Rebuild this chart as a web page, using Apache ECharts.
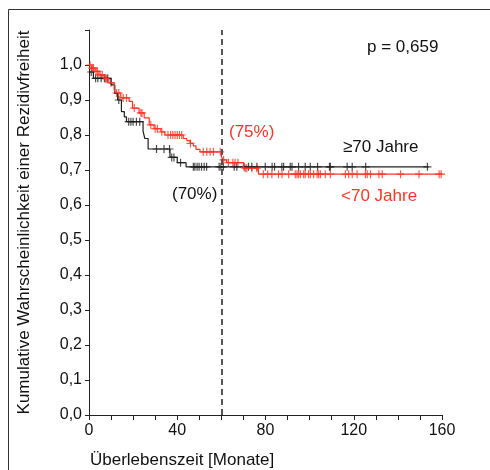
<!DOCTYPE html>
<html>
<head>
<meta charset="utf-8">
<script src="https://cdn.jsdelivr.net/npm/echarts@6/dist/echarts.min.js"></script>
<style>
  html, body { margin: 0; padding: 0; background: #fff; }
  #chart { width: 490px; height: 470px; }
</style>
</head>
<body>
<div id="chart"></div>
<script>
// Kaplan-Meier steps [Monate, Wahrscheinlichkeit] - value after each event
var olderSteps = [
  [0, 0.980], [2, 0.962], [10, 0.943], [11.7, 0.919], [13, 0.900], [14.7, 0.867],
  [16, 0.852], [17, 0.838], [24.5, 0.811], [25.3, 0.790], [26.8, 0.760],
  [36.7, 0.736], [40, 0.721], [44, 0.709], [154, 0.709]
];
var youngerSteps = [
  [0, 1.000], [1.2, 0.991], [2.7, 0.982], [4.5, 0.972], [6.8, 0.961], [9, 0.949],
  [11.4, 0.929], [12.1, 0.920], [14.4, 0.906], [18.2, 0.896], [19.7, 0.877],
  [22.7, 0.863], [25, 0.849], [27.3, 0.829], [29.5, 0.818], [32.6, 0.809],
  [34.4, 0.800], [42.7, 0.790], [44.3, 0.784], [45.8, 0.776], [47.3, 0.769],
  [48.5, 0.759], [50.3, 0.752], [60, 0.738], [60.8, 0.729], [62.4, 0.721],
  [70, 0.705], [76.8, 0.688], [160, 0.688]
];
// censored observations (Monate)
var olderCensored = [
  1, 3, 4, 5.5, 7, 8.5, 13.5, 18, 19, 20, 21.5, 23, 30.6, 34, 36.5, 37.5, 38.5,
  41.5, 47.3, 48, 49, 49.9, 51, 52.2, 53.3, 59, 59.8, 60.9, 65.8, 67, 70.3, 72.3,
  73.8, 76.1, 79.9, 83, 84.1, 87.4, 88.2, 91.2, 92, 95, 98, 100.3, 103.6, 109,
  109.4, 117, 119.3, 125.4, 153.4
];
var youngerCensored = [
  0.5, 1.5, 2, 3.2, 3.8, 5, 6, 7.5, 8, 10, 12.5, 13.5, 15.5, 17, 20.5, 23.5, 24,
  28, 30, 31, 33, 35.8, 37, 38, 39, 40, 41, 42, 46, 51.8, 53.4, 54.9, 56.4, 59.5,
  61, 63.2, 65.2, 66.2, 67.5, 70.8, 71.5, 73.8, 76.1, 79, 81, 82.9, 85.9, 87.5,
  90.5, 93.5, 94.3, 95, 95.8, 97.3, 98, 99.5, 100.3, 101.8, 103.4, 104.1, 104.9,
  107.1, 109.4, 116.2, 117.7, 119.3, 121.5, 125.3, 126.1, 127.6, 131.4, 132.9,
  141.2, 149.6, 158.7, 159.6
];
var cutoffMonth = 60;
var xTicks = [0, 40, 80, 120, 160];

var RED = '#ff3322';
var BLACK = '#1e1e1e';
var FONT = 'Liberation Sans';
var plus = 'path://M8.5,0H11.5V8.5H20V11.5H11.5V20H8.5V11.5H0V8.5H8.5Z';

function survivalAt(steps, t) {
  var s = steps[0][1];
  for (var i = 0; i < steps.length; i++) {
    if (steps[i][0] <= t) s = steps[i][1];
  }
  return s;
}
function marks(steps, times) {
  return times.map(function (t) { return [t, survivalAt(steps, t)]; });
}

var chart = echarts.init(document.getElementById('chart'));
chart.setOption({
  animation: false,
  backgroundColor: '#fff',
  grid: { left: 89, right: 48, top: 30, bottom: 55 },
  xAxis: {
    type: 'value', min: 0, max: 160, interval: 10,
    axisLine: { lineStyle: { color: '#222', width: 1 } },
    axisTick: { length: 5, lineStyle: { color: '#222' } },
    splitLine: { show: false },
    axisLabel: {
      color: '#111', fontFamily: FONT, fontSize: 16, margin: 8,
      formatter: function (v) { return xTicks.indexOf(v) >= 0 ? String(v) : ''; }
    }
  },
  yAxis: {
    type: 'value', min: 0, max: 1.1, interval: 0.1,
    name: 'Kumulative Wahrscheinlichkeit einer Rezidivfreiheit',
    nameLocation: 'middle', nameGap: 56, nameRotate: 90,
    nameTextStyle: { color: '#111', fontFamily: FONT, fontSize: 17 },
    axisLine: { show: true, lineStyle: { color: '#222', width: 1 } },
    axisTick: { show: true, length: 4, lineStyle: { color: '#222' } },
    splitLine: { show: false },
    axisLabel: {
      color: '#111', fontFamily: FONT, fontSize: 16, margin: 7,
      formatter: function (v) { return v > 1.05 ? '' : v.toFixed(1).replace('.', ','); }
    }
  },
  graphic: [
    { type: 'rect', shape: { x: 8.5, y: 9.5, width: 600, height: 600 },
      style: { fill: 'none', stroke: '#333', lineWidth: 1 }, silent: true },
    { type: 'text', left: 90, top: 452,
      style: { text: 'Überlebenszeit [Monate]', fill: '#111', font: '17px "Liberation Sans"' } },
    { type: 'text', left: 367, top: 39,
      style: { text: 'p = 0,659', fill: '#111', font: '17px "Liberation Sans"' } },
    { type: 'text', left: 343, top: 139,
      style: { text: '≥70 Jahre', fill: '#111', font: '17px "Liberation Sans"' } },
    { type: 'text', left: 341, top: 188,
      style: { text: '<70 Jahre', fill: RED, font: '17px "Liberation Sans"' } },
    { type: 'text', left: 229, top: 124,
      style: { text: '(75%)', fill: RED, font: '17px "Liberation Sans"' } },
    { type: 'text', left: 172, top: 186,
      style: { text: '(70%)', fill: '#111', font: '17px "Liberation Sans"' } }
  ],
  series: [
    {
      name: '≥70 Jahre', type: 'line', step: 'end', data: olderSteps,
      showSymbol: false, lineStyle: { color: BLACK, width: 1.2 },
      markLine: {
        silent: true, symbol: 'none', label: { show: false },
        lineStyle: { type: [6, 4], color: '#555', width: 2 },
        data: [{ xAxis: cutoffMonth }]
      }
    },
    {
      name: '<70 Jahre', type: 'line', step: 'end', data: youngerSteps,
      showSymbol: false, lineStyle: { color: RED, width: 1.2 }
    },
    {
      type: 'scatter', data: marks(olderSteps, olderCensored),
      symbol: plus, symbolSize: 8, itemStyle: { color: BLACK }
    },
    {
      type: 'scatter', data: marks(youngerSteps, youngerCensored),
      symbol: plus, symbolSize: 8, itemStyle: { color: RED }
    }
  ]
});
</script>
</body>
</html>
